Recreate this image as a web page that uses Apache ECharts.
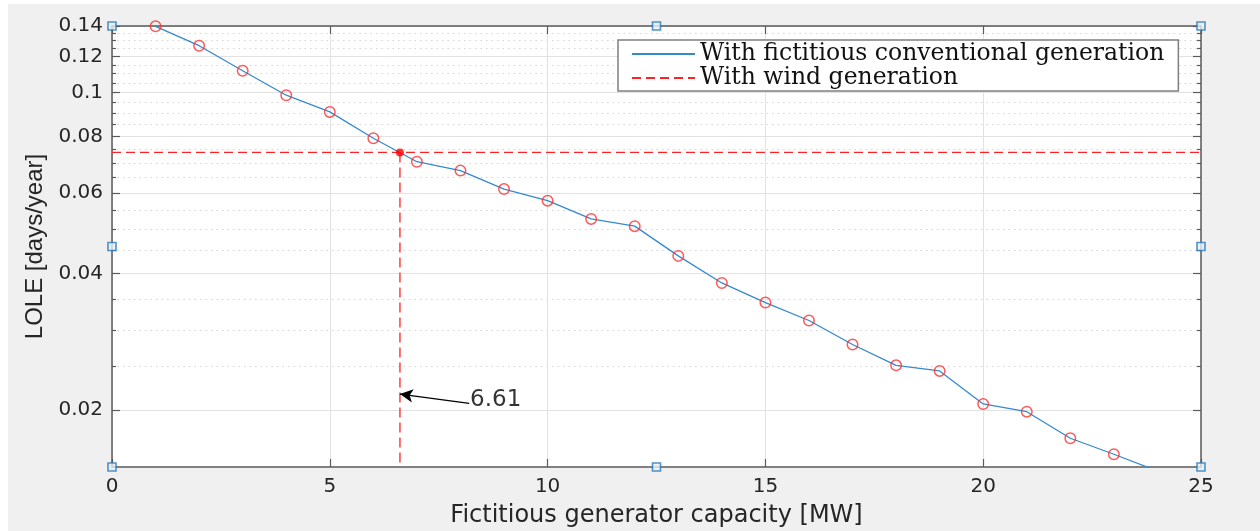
<!DOCTYPE html>
<html>
<head>
<meta charset="utf-8">
<script src="https://cdn.jsdelivr.net/npm/echarts@6/dist/echarts.min.js"></script>
<style>
html,body{margin:0;padding:0;background:#fff;}
#chart{width:1260px;height:531px;}
</style>
</head>
<body>
<div id="chart"></div>
<script>
// ---- data ----
const capacity = [1,2,3,4,5,6,7,8,9,10,11,12,13,14,15,16,17,18,19,20,21,22,23,24];
const lole = [0.1398,0.1267,0.1116,0.0986,0.0906,0.0793,0.0704,0.0673,0.0613,0.0578,0.0527,0.0508,0.0437,0.0381,0.0345,0.0315,0.0279,0.0251,0.0244,0.02064,0.01985,0.01735,0.0160,0.0147];
const xTicks = [0,5,10,15,20,25];
const yMajorTicks = [0.02,0.04,0.06,0.08,0.1,0.12,0.14];
const yMinorTicks = [0.025,0.03,0.035,0.045,0.05,0.055,0.065,0.07,0.075,0.085,0.09,0.095,0.105,0.11,0.115,0.125,0.13,0.135];
const windLOLE = 0.0738;
const equivCapacity = 6.61;
const arrowTail = [8.2, 0.0207];
const arrowTip = [6.61, 0.0217];
const labelPos = [8.22, 0.0211];
const handleX = [0,12.5,25,0,25,0,12.5,25];
const handleY = [0.14,0.14,0.14,0.04583,0.04583,0.015,0.015,0.015];
const seriesNames = ['With fictitious conventional generation','With wind generation'];

const xMin = 0, xMax = 25, yMin = 0.015, yMax = 0.14;
const axisColor = '#5a5a5a';
const sans = '"DejaVu Sans", sans-serif';

const chart = echarts.init(document.getElementById('chart'), null, {renderer:'canvas'});

function logAxis(pos, ticks, len, showLabel, split, splitType, lineShow){
  return {
    type:'log', logBase:10, min:yMin, max:yMax, position:pos,
    axisLine:{show:lineShow, lineStyle:{color:axisColor, width:1.5}},
    axisTick:{show:true, inside:true, length:len, customValues:ticks, lineStyle:{color:axisColor, width:1.2}},
    axisLabel:{show:showLabel, customValues:ticks, margin:9, color:'#262626', fontFamily:sans, fontSize:20,
      formatter:(v)=>String(Math.round(v*100)/100)},
    splitLine:{show:split, lineStyle:{color: splitType==='dotted' ? '#d4d4d4' : '#e2e2e2', width:1, type:splitType==='dotted'?[1.5,4]:'solid'}},
    minorTick:{show:false}, minorSplitLine:{show:false}
  };
}

const yAxes = [
  Object.assign(logAxis('left', yMajorTicks, 8, true, true, 'solid', true), {
    name:'LOLE [days/year]', nameLocation:'middle', nameGap:53,
    nameTextStyle:{fontFamily:'"Liberation Sans", Arial, sans-serif', fontSize:24, color:'#262626'}
  }),
  logAxis('left', yMinorTicks, 4, false, true, 'dotted', false),
  logAxis('right', yMajorTicks, 8, false, false, 'solid', true),
  logAxis('right', yMinorTicks, 4, false, false, 'solid', false)
];

const option = {
  backgroundColor:'#ffffff',
  animation:false,
  graphic:[{type:'rect', shape:{x:8,y:4,width:1252,height:527}, style:{fill:'#f0f0f0'}, z:-10, silent:true}],
  grid:{left:112, right:59, top:26, bottom:64, show:true, backgroundColor:'#ffffff', borderWidth:0,
        containLabel:false, outerBoundsMode:'none'},
  legend:{
    show:true, data:seriesNames, orient:'vertical', left:618, top:40,
    padding:[2,14,1,13], itemGap:0, itemWidth:63, itemHeight:22,
    backgroundColor:'#ffffff', borderColor:'#7f7f7f', borderWidth:1.5, borderRadius:0,
    itemStyle:{color:'rgba(0,0,0,0)', borderColor:'rgba(0,0,0,0)', borderWidth:0},
    textStyle:{fontFamily:'"DejaVu Serif", serif', fontSize:23.5, color:'#111', lineHeight:22},
    selectedMode:false
  },
  xAxis:[
    {type:'value', min:xMin, max:xMax, interval:5, position:'bottom',
     name:'Fictitious generator capacity [MW]', nameLocation:'middle', nameGap:37,
     nameTextStyle:{fontFamily:sans, fontSize:24, color:'#262626'},
     axisLine:{show:true, lineStyle:{color:axisColor, width:1.5}},
     axisTick:{show:true, inside:true, length:8, lineStyle:{color:axisColor, width:1.2}},
     axisLabel:{show:true, margin:10, color:'#262626', fontFamily:sans, fontSize:20,
       customValues:xTicks},
     splitLine:{show:true, lineStyle:{color:'#e2e2e2', width:1}}},
    {type:'value', min:xMin, max:xMax, interval:5, position:'top',
     axisLine:{show:true, lineStyle:{color:axisColor, width:1.5}},
     axisTick:{show:true, inside:true, length:8, lineStyle:{color:axisColor, width:1.2}},
     axisLabel:{show:false}, splitLine:{show:false}}
  ],
  yAxis: yAxes,
  series:[
    {name:seriesNames[0], type:'line', xAxisIndex:0, yAxisIndex:0,
     data: capacity.map((c,i)=>[c, lole[i]]),
     showSymbol:false, symbol:'none', clip:true,
     lineStyle:{color:'#3589cf', width:1.3}, itemStyle:{color:'#3589cf'}, z:3},
    {name:'markers', type:'scatter', xAxisIndex:0, yAxisIndex:0,
     data: capacity.map((c,i)=>[c, lole[i]]),
     symbol:'circle', symbolSize:10.5, clip:true,
     itemStyle:{color:'rgba(0,0,0,0)', borderColor:'#ff3030', borderWidth:1.5}, z:4},
    {name:seriesNames[1], type:'line', xAxisIndex:0, yAxisIndex:0,
     data:[[xMin, windLOLE],[xMax, windLOLE]],
     showSymbol:false, symbol:'none',
     lineStyle:{color:'#ff2222', width:1.3, type:[9,5]}, itemStyle:{color:'#ff2222'}, z:3},
    {name:'vertical', type:'line', xAxisIndex:0, yAxisIndex:0,
     data:[[equivCapacity, windLOLE],[equivCapacity, yMin]],
     showSymbol:false, symbol:'none',
     lineStyle:{color:'#ff6060', width:1.8, type:[10,5]}, z:3},
    {name:'intersection', type:'scatter', xAxisIndex:0, yAxisIndex:0,
     data:[[equivCapacity, windLOLE]], symbol:'circle', symbolSize:8,
     itemStyle:{color:'#ff0000'}, z:5,
     markLine:{silent:true, symbol:['none','arrow'], symbolSize:[10,13],
       lineStyle:{color:'#000', width:1.2, type:'solid'}, label:{show:false},
       data:[[{coord:arrowTail},{coord:arrowTip}]]}},
    {name:'label', type:'scatter', xAxisIndex:0, yAxisIndex:0,
     data:[labelPos], symbolSize:0, silent:true,
     label:{show:true, position:'right', distance:0, formatter:String(equivCapacity),
       fontFamily:sans, fontSize:23, color:'#000'}},
    {name:'handles', type:'scatter', xAxisIndex:0, yAxisIndex:0,
     data: handleX.map((x,i)=>[x, handleY[i]]), symbol:'rect', symbolSize:8, clip:false,
     itemStyle:{color:'#e6f0f9', borderColor:'#2b78b8', borderWidth:1.6}, z:10, silent:true}
  ]
};
chart.setOption(option);
</script>
</body>
</html>
